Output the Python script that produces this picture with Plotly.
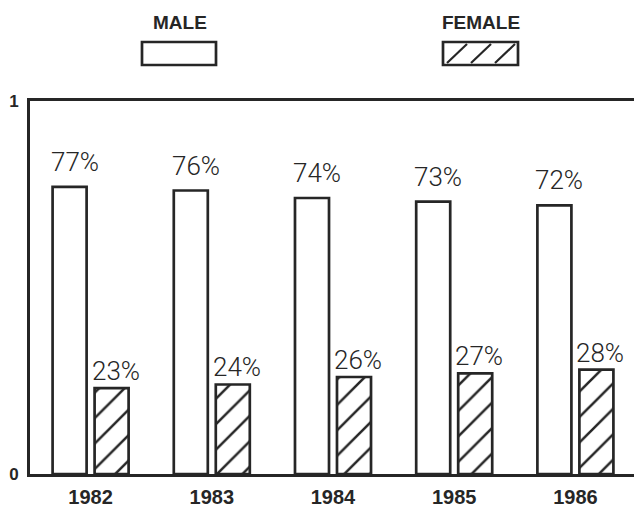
import plotly.graph_objects as go

years = ["1982", "1983", "1984", "1985", "1986"]
male = [0.77, 0.76, 0.74, 0.73, 0.72]
female = [0.23, 0.24, 0.26, 0.27, 0.28]
male_labels = ["77%", "76%", "74%", "73%", "72%"]
female_labels = ["23%", "24%", "26%", "27%", "28%"]

OFF = 8  # page body margin
W, H = 642 - OFF, 507 - OFF
L, R, T, B = 30 - OFF, 6, 101 - OFF, 33
INK = "#262626"
pw, ph = W - L - R, H - T - B
LABEL_FONT = dict(family="Roboto, Liberation Sans", size=26, weight=300, color=INK)


def px2paper(x, y):
    # x, y given in window pixels
    return (x - OFF - L) / pw, (H - B - (y - OFF)) / ph


fig = go.Figure()
fig.add_trace(go.Bar(
    x=years, y=male, name="MALE",
    marker=dict(color="white", line=dict(color=INK, width=2.7)),
    showlegend=False,
))
fig.add_trace(go.Bar(
    x=years, y=female, name="FEMALE",
    marker=dict(color="white", line=dict(color=INK, width=2.7),
                pattern=dict(shape="/", fgcolor=INK, fgopacity=1, bgcolor="white",
                             size=18, solidity=0.14)),
    showlegend=False,
))

annotations = []
for i, (v, t) in enumerate(zip(male, male_labels)):
    annotations.append(dict(x=i, y=v, xref="x", yref="y", text=t, showarrow=False,
                            xshift=-16, yshift=8, yanchor="bottom", xanchor="center",
                            font=LABEL_FONT))
for i, (v, t) in enumerate(zip(female, female_labels)):
    annotations.append(dict(x=i, y=v, xref="x", yref="y", text=t, showarrow=False,
                            xshift=25, yshift=0, yanchor="bottom", xanchor="center",
                            font=LABEL_FONT))

# custom legend
legend_items = [("MALE", 180, 142, 216, False), ("FEMALE", 481, 443, 518, True)]
shapes = []
for name, cx, x0, x1, hatch in legend_items:
    ax, ay = px2paper(cx, 22)
    annotations.append(dict(x=ax, y=ay, xref="paper", yref="paper", text="<b>" + name + "</b>",
                            showarrow=False, yanchor="middle", xanchor="center",
                            font=dict(family="Liberation Sans Narrow, Liberation Sans", size=19, color=INK)))
    px0, py0 = px2paper(x0, 65)
    px1, py1 = px2paper(x1, 42)
    shapes.append(dict(type="rect", xref="paper", yref="paper", x0=px0, y0=py0, x1=px1, y1=py1,
                       line=dict(color=INK, width=2.7), fillcolor="white"))
    if hatch:
        for k in range(3):
            sx = x0 + 4 + k * 24
            a0 = px2paper(sx, 63)
            a1 = px2paper(sx + 20, 44)
            shapes.append(dict(type="line", xref="paper", yref="paper",
                               x0=a0[0], y0=a0[1], x1=a1[0], y1=a1[1],
                               line=dict(color=INK, width=2.2)))

fig.update_layout(
    width=W, height=H,
    margin=dict(l=L, r=R, t=T, b=B, autoexpand=False),
    paper_bgcolor="white", plot_bgcolor="white",
    barmode="group", bargap=0.307, bargroupgap=0.19,
    annotations=annotations, shapes=shapes,
    xaxis=dict(type="category", range=[-0.5, len(years) - 0.5], automargin=False,
               showline=True, linecolor=INK, linewidth=2.7, mirror=True, ticks="",
               showgrid=False, ticklabelstandoff=3,
               tickfont=dict(family="Liberation Sans", size=20, color=INK),
               tickprefix="<b>", ticksuffix="</b>"),
    yaxis=dict(range=[0, 1], tickvals=[0, 1], ticktext=["<b>0</b>", "<b>1</b>"], automargin=False,
               showline=True, linecolor=INK, linewidth=2.7, mirror=True, ticks="",
               showgrid=False, zeroline=False, ticklabelstandoff=5,
               tickfont=dict(family="Liberation Sans", size=17, color=INK)),
)

fig.write_html("out.html")
